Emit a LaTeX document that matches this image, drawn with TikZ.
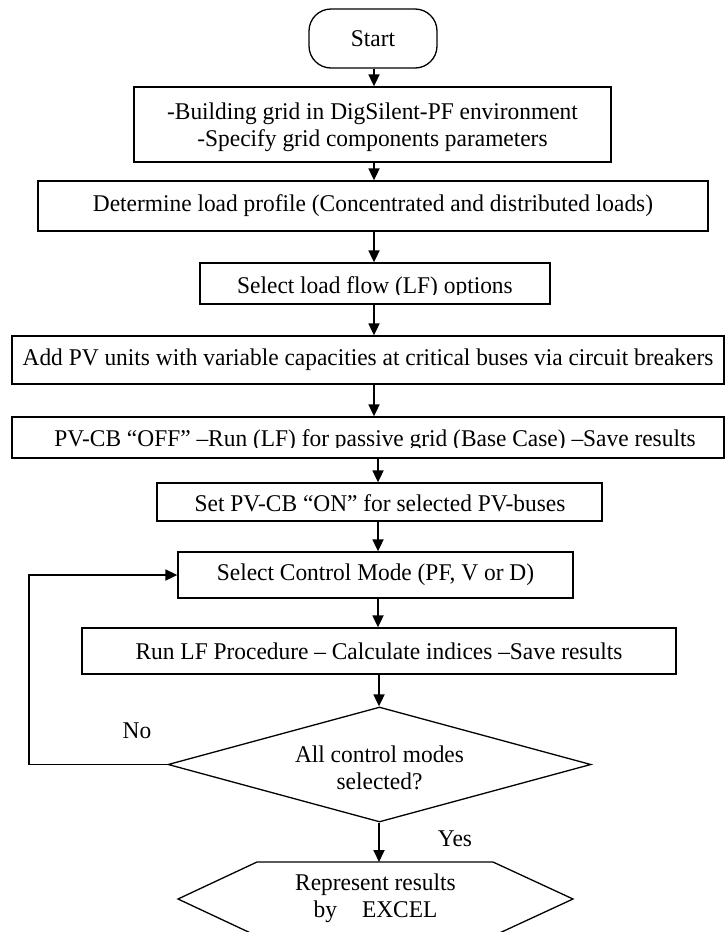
\documentclass[tikz,border=0pt]{standalone}
\usepackage{fontspec}
\setmainfont[FakeStretch=0.975]{Liberation Serif}
\usetikzlibrary{arrows.meta,shapes.geometric}
\newcommand\dgfont{\fontsize{24}{27}\selectfont}
\begin{document}
\begin{tikzpicture}[x=1pt,y=-1pt,
  every node/.style={font=\dgfont},
  procbox/.style={draw, line width=1.3pt, inner sep=0pt, align=center},
  arr/.style={line width=1.8pt, -{Triangle[length=12pt,width=11pt]}},
  outline/.style={line width=1.3pt}]
\useasboundingbox (0,0) rectangle (726,932);
\fill[white] (0,0) rectangle (726,932);

\coordinate (ax1) at (374,0);
\coordinate (ax2) at (378,0);
\coordinate (ax3) at (379,0);
\coordinate (fb) at (29,0);

\node[procbox, rounded corners=22pt, minimum width=128pt, minimum height=59pt] (start) at (373,38.5) {Start};
\node[procbox, minimum width=477pt, minimum height=75pt] (b2) at (372.5,124.5) {};
\node[align=center] (t2) at (372.5,127) {-Building grid in DigSilent-PF environment\\-Specify grid components parameters};
\node[procbox, minimum width=670pt, minimum height=50pt] (b3) at (373,206) {Determine load profile (Concentrated and distributed loads)};
\node[procbox, minimum width=350pt, minimum height=41pt] (b4) at (375,283.5) {};
\node[procbox, minimum width=712pt, minimum height=48pt] (b5) at (368,360) {Add PV units with variable capacities at critical buses via circuit breakers};
\node[procbox, minimum width=712pt, minimum height=41pt] (b6) at (368,437.5) {};
\node[procbox, minimum width=445pt, minimum height=38pt] (b7) at (379.5,502) {};
\node[procbox, minimum width=395pt, minimum height=46pt] (b8) at (375.5,575) {Select Control Mode (PF, V or D)};
\node[procbox, minimum width=594pt, minimum height=46pt] (b9) at (379,651) {Run LF Procedure -- Calculate indices --Save results};
\node[draw, diamond, aspect=3.68, line width=1.3pt, inner sep=0pt, minimum width=423pt, minimum height=115pt] (dec) at (379.5,764.5) {};
\node[align=center] (tdec) at (379.5,768) {All control modes\\selected?};

% clipped texts
\begin{scope}
  \clip (200,263) rectangle (550,294.5);
  \node[anchor=base] (t4) at (375,293) {Select load flow (LF) options};
\end{scope}
\begin{scope}
  \clip (12,417) rectangle (724,447);
  \node[anchor=base] (t6) at (375,446) {PV-CB “OFF” --Run (LF) for passive grid (Base Case) --Save results};
\end{scope}
\begin{scope}
  \clip (157,483) rectangle (602,512);
  \node[anchor=base] (t7) at (380,511) {Set PV-CB “ON” for selected PV-buses};
\end{scope}

% output hexagon
\draw[outline] (257,862) -- (493,862) -- (573,899) -- (493,936) -- (257,936) -- (178,899) -- cycle;
\coordinate (hextop) at (379,862);
\node[align=center] (hex) at (375.5,898) {Represent results\\by\hspace{25pt}EXCEL};

% labels
\node (no) at (137,731) {No};
\node (yes) at (455,839) {Yes};

% connectors
\draw[arr] (start.south -| ax1) -- (b2.north -| ax1);
\draw[arr] (b2.south -| ax1) -- (b3.north -| ax1);
\draw[arr] (b3.south -| ax1) -- (b4.north -| ax1);
\draw[arr] (b4.south -| ax1) -- (b5.north -| ax1);
\draw[arr] (b5.south -| ax1) -- (b6.north -| ax1);
\draw[arr] (b6.south -| ax2) -- (b7.north -| ax2);
\draw[arr] (b7.south -| ax2) -- (b8.north -| ax2);
\draw[arr] (b8.south -| ax2) -- (b9.north -| ax2);
\draw[arr] (b9.south -| ax3) -- (dec.north -| ax3);
\draw[arr] (dec.south -| ax3) -- (hextop);
\draw[arr] (dec.west) -- (dec.west -| fb) -- (b8.west -| fb) -- (b8.west);
\end{tikzpicture}
\end{document}
